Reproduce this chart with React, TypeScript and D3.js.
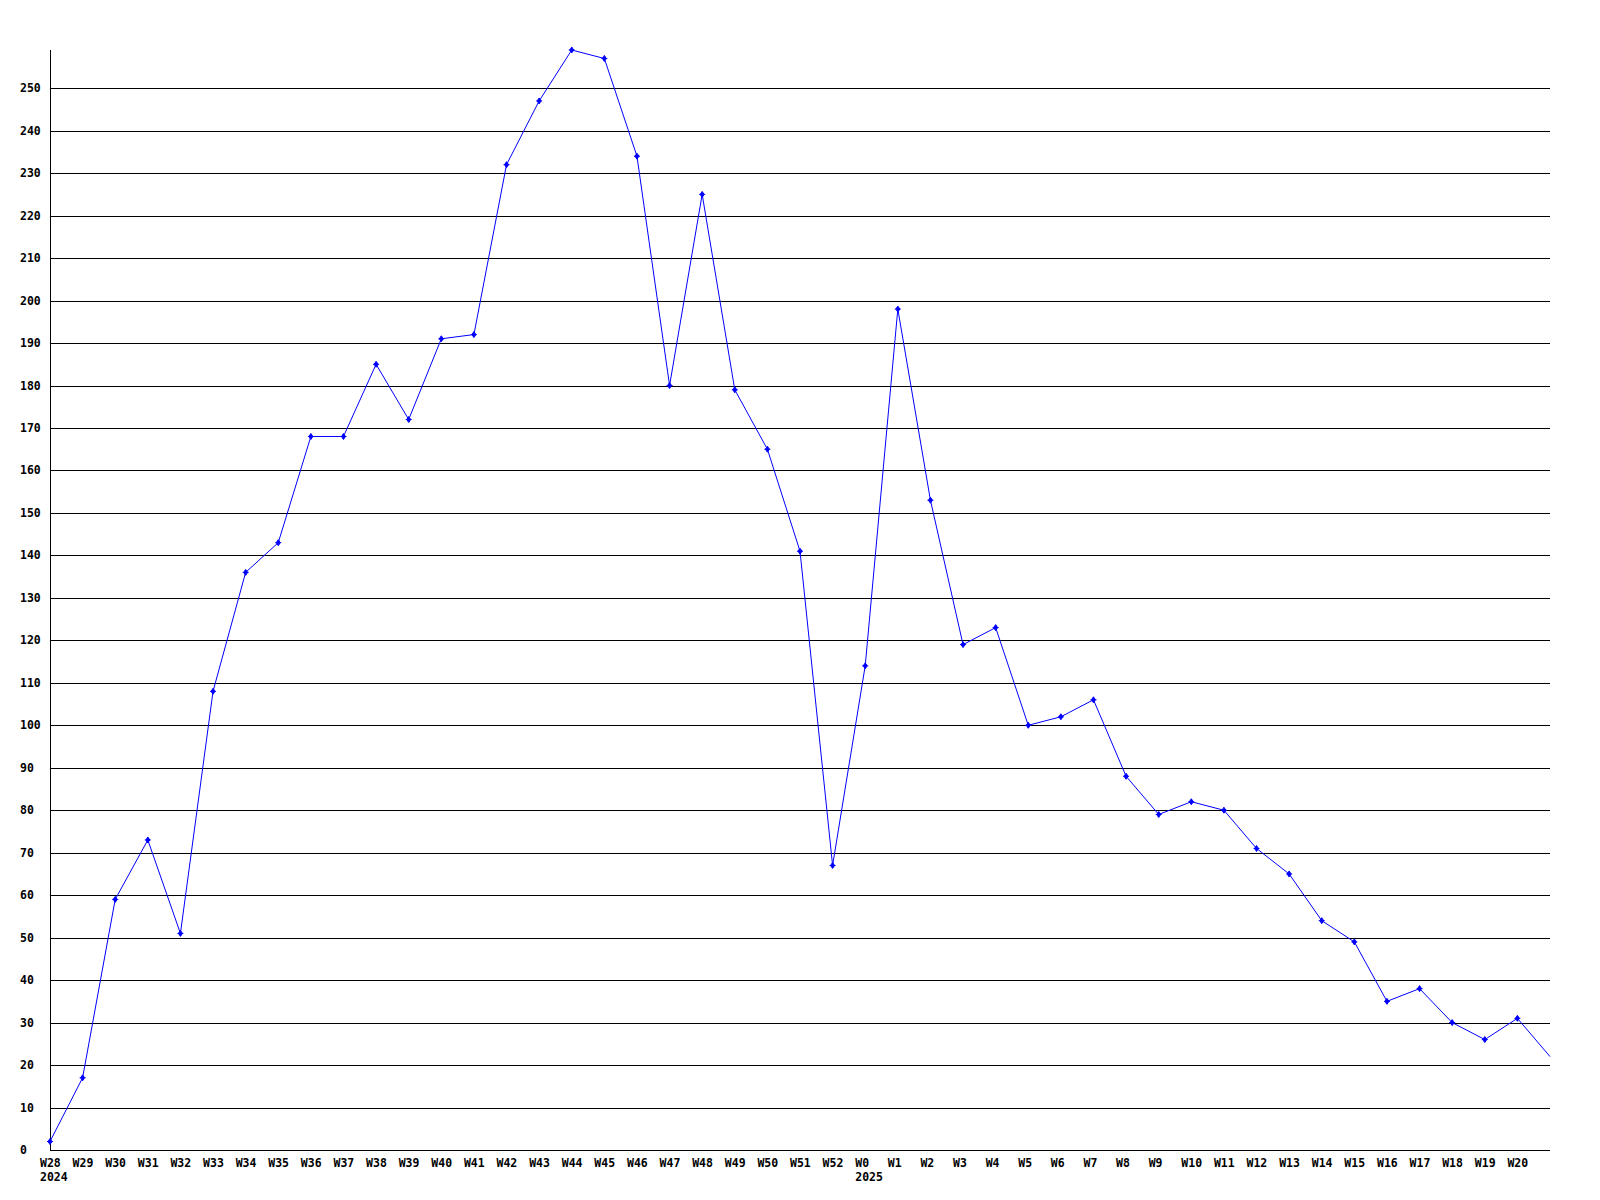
import React from "react";
import * as d3 from "d3";

const weekLabels: string[] = [
  "W28","W29","W30","W31","W32","W33","W34","W35","W36","W37","W38","W39","W40","W41","W42","W43","W44","W45","W46","W47","W48","W49","W50","W51","W52",
  "W0","W1","W2","W3","W4","W5","W6","W7","W8","W9","W10","W11","W12","W13","W14","W15","W16","W17","W18","W19","W20","",
];
const yearLabels: { index: number; label: string }[] = [
  { index: 0, label: "2024" },
  { index: 25, label: "2025" },
];
const values: number[] = [
  2, 17, 59, 73, 51, 108, 136, 143, 168, 168, 185, 172, 191, 192, 232, 247, 259, 257, 234, 180, 225, 179, 165, 141, 67,
  114, 198, 153, 119, 123, 100, 102, 106, 88, 79, 82, 80, 71, 65, 54, 49, 35, 38, 30, 26, 31, 22,
];
const yTicks: number[] = d3.range(0, 251, 10);

const W = 1600;
const H = 1200;
const left = 50;
const right = 1550;
const top = 50;
const bottom = 1150;
const font = "'DejaVu Sans Mono', monospace";

export default function App() {
  const x = d3.scaleLinear().domain([0, values.length - 1]).range([left, right]);
  const y = d3.scaleLinear().domain([0, d3.max(values) as number]).range([bottom, top]);
  const line = d3
    .line<number>()
    .x((_, i) => x(i))
    .y((d) => y(d));
  return (
    <svg
      width={W}
      height={H}
      style={{ position: "absolute", left: 0, top: 0, background: "#fff" }}
    >
      <rect x={0} y={0} width={W} height={H} fill="#fff" />
      {yTicks.map((t) => (
        <g key={t}>
          {t > 0 && (
            <line
              x1={left}
              x2={right}
              y1={Math.round(y(t)) + 0.5}
              y2={Math.round(y(t)) + 0.5}
              stroke="#000"
              strokeWidth={1}
            />
          )}
          <text
            x={20}
            y={y(t)}
            dy="0.35em"
            fontFamily={font}
            fontWeight="bold"
            fontSize={11.5}
            fill="#000"
          >
            {t}
          </text>
        </g>
      ))}
      <line x1={left + 0.5} x2={left + 0.5} y1={top} y2={bottom} stroke="#000" />
      <line x1={left} x2={right} y1={bottom + 0.5} y2={bottom + 0.5} stroke="#000" />
      {weekLabels.map((l, i) => (
        <text
          key={i}
          x={x(i) - 10}
          y={1166.5}
          fontFamily={font}
          fontWeight="bold"
          fontSize={11.5}
          fill="#000"
        >
          {l}
        </text>
      ))}
      {yearLabels.map((d) => (
        <text
          key={d.label}
          x={x(d.index) - 10}
          y={1181}
          fontFamily={font}
          fontWeight="bold"
          fontSize={11.5}
          fill="#000"
        >
          {d.label}
        </text>
      ))}
      <path d={line(values) || ""} fill="none" stroke="#0000ff" strokeWidth={1} />
      {values.slice(0, values.length - 1).map((v, i) => {
        const cx = x(i);
        const cy = y(v);
        return (
          <path
            key={i}
            d={`M${cx},${cy - 3}L${cx + 2},${cy}L${cx},${cy + 3}L${cx - 2},${cy}Z M${cx - 3},${cy}L${cx + 3},${cy}`}
            fill="#0000ff"
            stroke="#0000ff"
            strokeWidth={1}
          />
        );
      })}
    </svg>
  );
}
